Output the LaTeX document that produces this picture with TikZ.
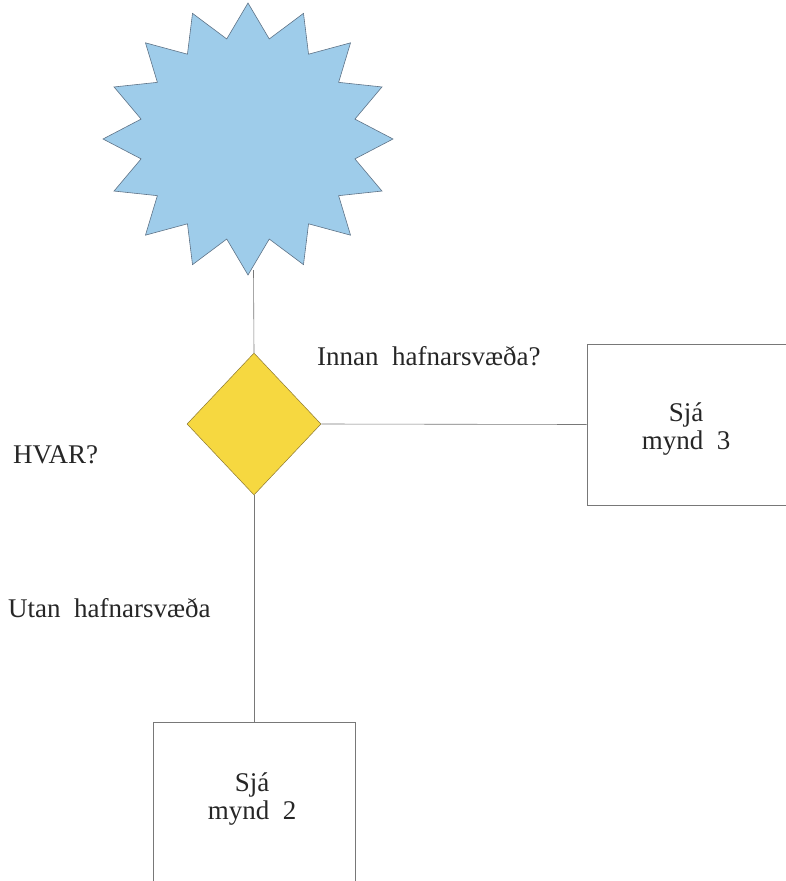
\documentclass[tikz,border=0pt]{standalone}
\usepackage{fontspec}
\setmainfont{Liberation Serif}
\usetikzlibrary{shapes.geometric}
\definecolor{sunfill}{RGB}{158,204,234}
\definecolor{sunline}{RGB}{95,115,135}
\definecolor{diafill}{RGB}{246,216,64}
\definecolor{dialine}{RGB}{140,120,50}
\definecolor{linegray}{RGB}{120,120,120}
\tikzset{
  txt/.style={font=\fontsize{27}{28}\selectfont, inner sep=0pt, text=black!85},
  boxstyle/.style={draw=linegray, line width=0.6pt, inner sep=0pt},
  conn/.style={draw=linegray, line width=0.6pt}
}
\begin{document}
\begin{tikzpicture}[x=1pt,y=-1pt]
\useasboundingbox (0,0) rectangle (785,881);
% star (sun)
\filldraw[fill=sunfill, draw=sunline, line width=0.6pt]
  plot[samples at={0,...,31}, variable=\k]
  ({248 + (mod(\k,2)==0 ? 145 : 109)*cos(90+\k*11.25)},
   {139 - (mod(\k,2)==0 ? 136 : 102)*sin(90+\k*11.25)}) -- cycle;
\coordinate (sun) at (253.5,270);
% diamond
\node[diamond, draw=dialine, fill=diafill, line width=0.5pt, inner sep=0pt,
      minimum width=134pt, minimum height=142pt] (dia) at (254,424) {};
% boxes
\node[boxstyle, minimum width=210pt, minimum height=161pt] (box3) at (692,424.5) {};
\node[boxstyle, minimum width=202pt, minimum height=200pt] (box2) at (254,822) {};
\node[txt, align=center, anchor=north] (t3) at (686,403) {Sjá\\mynd\ \ 3};
\node[txt, align=center, anchor=north] (t2) at (252,773) {Sjá\\mynd\ \ 2};
% labels
\node[txt, anchor=base west] (l1) at (317,365) {Innan\ \ hafnarsvæða?};
\node[txt, anchor=base west] (l2) at (13,463) {HVAR?};
\node[txt, anchor=base west] (l3) at (8,617) {Utan\ \ hafnarsvæða};
% connectors
\draw[conn] (sun) -- (dia.north);
\draw[conn] (dia.east) -- (box3.west);
\draw[conn] (dia.south) -- (box2.north);
\end{tikzpicture}
\end{document}
